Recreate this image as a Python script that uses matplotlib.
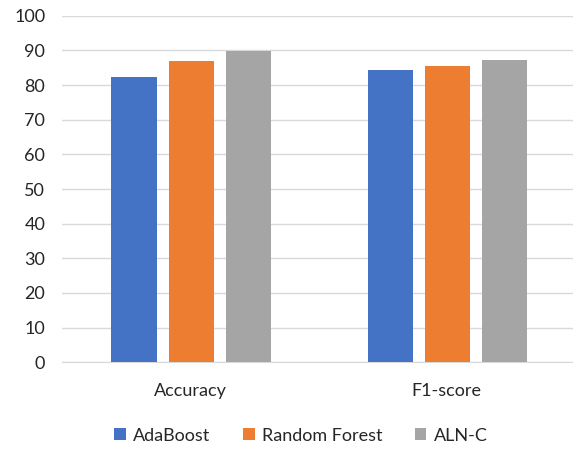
import matplotlib
matplotlib.use("Agg")
from matplotlib import pyplot as plt
import numpy as np

plt.rcParams['font.family'] = ['Lato', 'DejaVu Sans']

categories = ["Accuracy", "F1-score"]
models = ["AdaBoost", "Random Forest", "ALN-C"]
colors = ["#4472C4", "#ED7D31", "#A5A5A5"]
adaboost = [82.4, 84.3]
random_forest = [86.9, 85.6]
aln_c = [89.8, 87.3]
yticks = [0, 10, 20, 30, 40, 50, 60, 70, 80, 90, 100]

fig = plt.figure(figsize=(5.73, 4.5), dpi=100)
ax = fig.add_axes([0.108, 0.195, 0.894, 0.77])

x = np.arange(len(categories))
width = 0.176
step = 0.2235
for i, (vals, name, c) in enumerate(zip([adaboost, random_forest, aln_c], models, colors)):
    ax.bar(x + (i - 1) * step + 0.005, vals, width, color=c, label=name, zorder=3)

ax.set_xlim(-0.5, 1.5)
ax.set_ylim(0, 100)
ax.set_yticks(yticks)
ax.set_xticks(x)
ax.set_xticklabels(categories)
ax.grid(axis="y", color="#D9D9D9", linewidth=1, zorder=0)
for s in ["top", "right", "left"]:
    ax.spines[s].set_visible(False)
ax.spines["bottom"].set_color("#D9D9D9")
ax.tick_params(axis="both", length=0, labelsize=13, colors="#262626")
ax.tick_params(axis="y", pad=12)
ax.tick_params(axis="x", pad=15)

fig.legend(loc="lower center", bbox_to_anchor=(0.525, -0.022), ncol=3, frameon=False,
           fontsize=13, handlelength=0.65, handleheight=0.65, columnspacing=1.8,
           handletextpad=0.4, labelcolor="#262626")

fig.savefig("out.png", dpi=100)
